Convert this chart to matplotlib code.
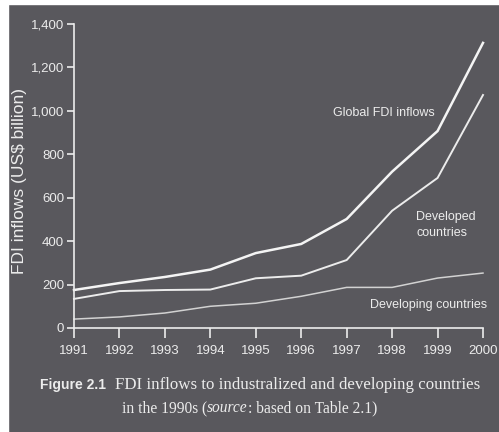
import matplotlib
matplotlib.use("Agg")
import matplotlib.pyplot as plt
from matplotlib.patches import Rectangle

######################
### Data (US$ billion)
######################
years = [1991, 1992, 1993, 1994, 1995, 1996, 1997, 1998, 1999, 2000]
global_fdi = [175, 207, 235, 269, 345, 387, 502, 720, 907, 1313]
developed = [134, 170, 175, 177, 229, 241, 313, 540, 691, 1073]
developing = [41, 51, 69, 100, 114, 146, 187, 187, 230, 253]
y_ticks = [0, 200, 400, 600, 800, 1000, 1200, 1400]

BG = "#59585d"
FG = "#ececec"
SANS = ["Liberation Sans", "DejaVu Sans"]
SERIF = ["Liberation Serif", "DejaVu Serif"]
W, H = 499, 432

######################
### Figure
######################
fig = plt.figure(figsize=(W / 100, H / 100), dpi=100, facecolor=BG)
ax = fig.add_axes([74 / W, 1 - 328 / H, 409 / W, 304 / H])
ax.set_facecolor(BG)

ax.plot(years, global_fdi, color="#f4f4f4", lw=1.8, clip_on=False)
ax.plot(years, developed, color="#ececec", lw=1.4, clip_on=False)
ax.plot(years, developing, color="#d2d2d2", lw=1.1, clip_on=False)

ax.set_xlim(1991, 2000)
ax.set_ylim(0, 1400)
for s in ["top", "right"]:
    ax.spines[s].set_visible(False)
for s in ["left", "bottom"]:
    ax.spines[s].set_color(FG)
    ax.spines[s].set_linewidth(1.2)

ax.set_xticks(years)
ax.set_xticklabels([str(y) for y in years], family=SANS, fontsize=9.5, color=FG)
ax.set_yticks(y_ticks)
ax.set_yticklabels(["{:,}".format(v) for v in y_ticks], family=SANS, fontsize=9.5, color=FG)
ax.tick_params(axis="x", direction="out", length=7, width=1.2, color=FG, pad=5)
ax.tick_params(axis="y", direction="out", length=5, width=1.2, color=FG, pad=2)

ax.set_ylabel("FDI inflows (US$ billion)", family=SANS, fontsize=12.5, color=FG)
ax.yaxis.set_label_coords(-0.115, 0.484)

# series labels
ax.text(1996.70, 990, "Global FDI inflows", family=SANS, fontsize=9,
        color=FG, va="center", ha="left")
ax.text(1998.53, 474, "Developed\ncountries", family=SANS, fontsize=9,
        color=FG, va="center", ha="left", linespacing=1.35)
ax.text(1997.51, 106, "Developing countries", family=SANS, fontsize=9,
        color=FG, va="center", ha="left")

######################
### Caption
######################
fig.text(40 / W, 1 - 389 / H, "Figure 2.1", family=SANS, fontweight="bold",
         fontsize=10, color=FG, va="baseline")
fig.text(115 / W, 1 - 389 / H, "FDI inflows to industralized and developing countries",
         family=SERIF, fontsize=12.2, color=FG, va="baseline")

renderer = fig.canvas.get_renderer()
x_px = 122
pieces = [("in the 1990s (", "normal"), ("source", "italic"), (": based on Table 2.1)", "normal")]
for txt, style in pieces:
    t = fig.text(x_px / W, 1 - 412 / H, txt, family=SERIF, fontsize=11.2,
                 style=style, color=FG, va="baseline")
    bb = t.get_window_extent(renderer=renderer)
    x_px = bb.x1

# white page edges from the photo
fig.add_artist(Rectangle((0, 1 - 4 / H), 1, 4 / H, transform=fig.transFigure,
                         color="white", zorder=10))
fig.add_artist(Rectangle((0, 0), 8 / W, 1, transform=fig.transFigure,
                         color="white", zorder=10))

fig.savefig("out.png", dpi=100, facecolor=BG)
